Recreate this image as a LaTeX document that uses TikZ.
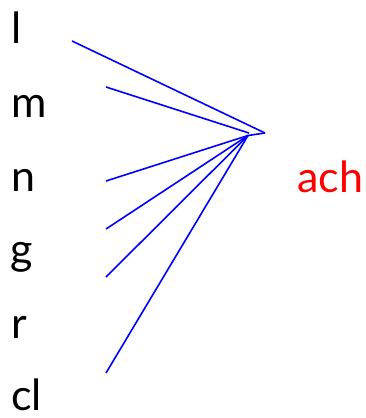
\documentclass[tikz,border=0pt]{standalone}
\usepackage{fontspec}
\setmainfont{Lato}
\begin{document}
\begin{tikzpicture}[x=1pt,y=-1pt,
  letter/.style={anchor=base west,inner sep=0pt,font=\fontsize{43}{43}\selectfont},
  link/.style={draw=blue,line width=1.6pt}]
\useasboundingbox (0,0) rectangle (366,418);
\node[letter] (l) at (11,43) {l};
\node[letter] (m) at (11,117) {m};
\node[letter] (n) at (11,191) {n};
\node[letter] (g) at (10,264) {g};
\node[letter] (r) at (11,338) {r};
\node[letter] (cl) at (11,410) {cl};
\node[letter,text=red] (ach) at (297,192) {ach};
\coordinate (sl) at (72,41);
\coordinate (sm) at (106,87);
\coordinate (sn) at (106,181);
\coordinate (sg) at (106,229);
\coordinate (sr) at (106,277);
\coordinate (scl) at (106,373);
\coordinate (tip) at (265,133);
\coordinate (hub) at (248,135.5);
\draw[link] (sl) -- (tip);
\draw[link] (sm) -- (249,133);
\draw[link] (sn) -- (hub);
\draw[link] (sg) -- (hub);
\draw[link] (sr) -- (hub);
\draw[link] (scl) -- (hub);
\draw[link] (hub) -- (tip);
\end{tikzpicture}
\end{document}
